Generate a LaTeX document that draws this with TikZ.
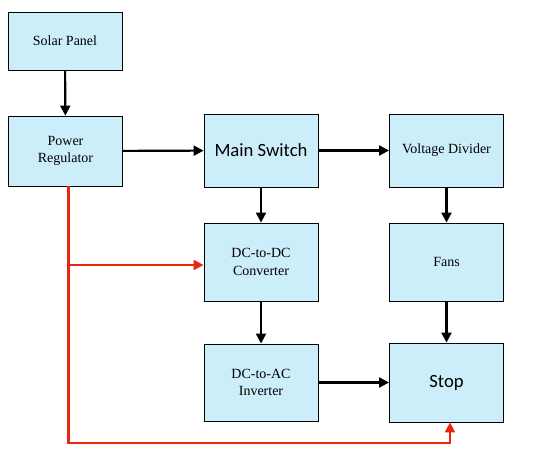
\documentclass[tikz,border=0pt]{standalone}
\usepackage{fontspec}
\setmainfont{Liberation Serif}
\newfontfamily\carlito{Carlito}
\usetikzlibrary{arrows.meta}

\definecolor{boxfill}{RGB}{204,238,251}
\definecolor{feedred}{RGB}{232,38,14}

\tikzset{
  block/.style={draw=black, line width=0.65pt, fill=boxfill, inner sep=0pt,
    minimum width=85.5pt, align=center,
    font=\fontsize{10.5}{13}\selectfont},
  bigtext/.style={font=\carlito\fontsize{14}{16}\selectfont},
  flow/.style={line width=1.6pt, -{Triangle[length=7.5pt,width=7.5pt]}},
  feed/.style={feedred, line width=1.6pt, -{Triangle[length=7.5pt,width=7.5pt]}}
}

\begin{document}
\begin{tikzpicture}[x=0.75pt, y=-0.75pt]
  \useasboundingbox (0,0) rectangle (535,471);

  % blocks
  \node[block, minimum height=43.5pt] (solar) at (65,41) {Solar Panel};
  \node[block, minimum height=52.5pt] (reg) at (65.5,151) {Power\\Regulator};
  \node[block, bigtext, minimum height=54.75pt] (main) at (261,150.5) {Main Switch};
  \node[block, minimum height=54.75pt] (volt) at (446.5,150.5) {Voltage Divider};
  \node[block, minimum height=58.5pt] (dcdc) at (261,262) {DC-to-DC\\Converter};
  \node[block, minimum height=58.5pt] (fans) at (446.5,262) {Fans};
  \node[block, minimum height=57.75pt] (dcac) at (261,382.5) {DC-to-AC\\Inverter};
  \node[block, bigtext, minimum height=59.25pt] (stop) at (446.5,382.5) {Stop};

  % main flow
  \draw[flow] (solar) -- (reg);
  \draw[flow] (reg) -- (main);
  \draw[flow] (main) -- (volt);
  \draw[flow] (main) -- (dcdc);
  \draw[flow] (volt) -- (fans);
  \draw[flow] (dcdc) -- (dcac);
  \draw[flow] (fans) -- (stop);
  \draw[flow] (dcac) -- (stop);

  % red bypass
  \coordinate (tap) at (68.5,265);
  \coordinate (corner) at (68.5,443);
  \draw[feed] (reg.south -| corner) -- (corner) -| ([xshift=2.6pt]stop.south);
  \draw[feed] (tap) -- (tap -| dcdc.west);
\end{tikzpicture}
\end{document}
